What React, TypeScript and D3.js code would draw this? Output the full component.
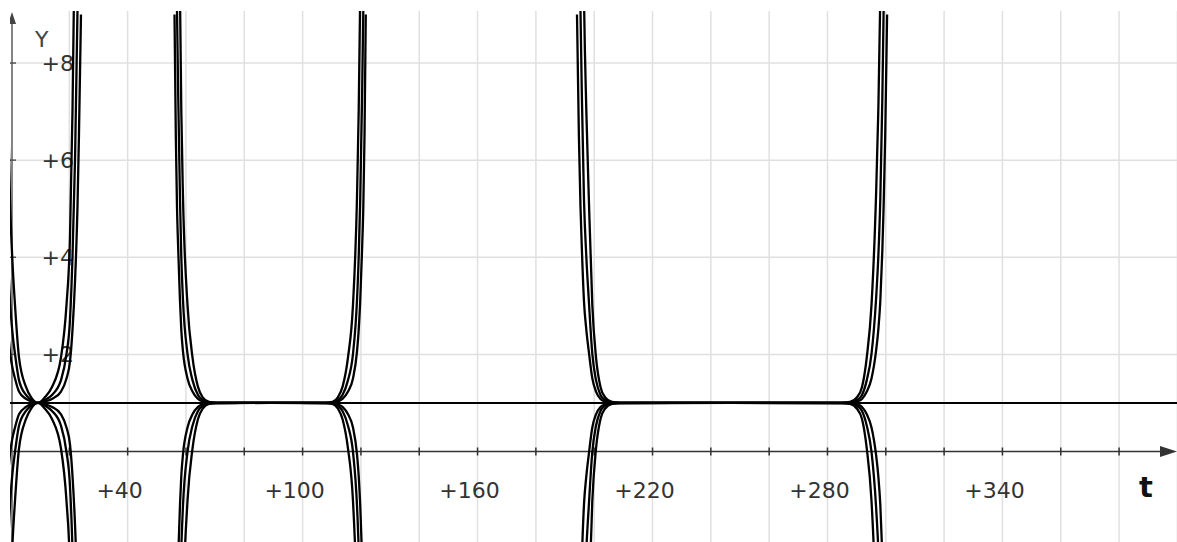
import React from "react";
import * as d3 from "d3";

const W = 1177;
const H = 542;

// x ticks / grid (t units), y ticks
const xGridTicks = d3.range(20, 401, 20);
const xLabelTicks = [40, 100, 160, 220, 280, 340];
const yGridTicks = [2, 4, 6, 8];
const yLabelTicks = [2, 4, 6, 8];

// family of curves y = 1 ± k·g(t)
const familyK = [0.5, 1, 2];
const baseline = 1;

// branch A (around t ≈ 9)
const branchA_t = [-4.0, -3.0, -2.2, -1.5, -1.0, -0.34, 0.5, 1.37, 2.74, 5.14, 6.86, 9.26, 11.66, 14.06, 17.15, 19.03, 20.23, 21.09, 21.95, 22.8, 23.3, 24.0];
const branchA_g = [16, 9, 6, 4, 3, 2.1, 1.45, 1.01, 0.47, 0.165, 0.06, 0, 0.06, 0.165, 0.47, 1.01, 1.71, 3.01, 5.0, 8.07, 11, 16];

// branch B (t ≈ 56 … 122)
const branchB_t = [56.07, 56.52, 56.93, 57.37, 57.96, 58.4, 58.98, 60.53, 62.24, 64.13, 65.67, 67.9, 70.3, 89.0, 108.02, 110.25, 112.14, 113.68, 115.57, 117.28, 118.66, 119.24, 119.75, 120.37, 120.82, 121.23, 121.67];
const branchB_g = [16, 11, 8.07, 6.24, 4.18, 3.01, 2.12, 1.01, 0.47, 0.165, 0.06, 0.01, 0.002, 0, 0.002, 0.01, 0.06, 0.165, 0.47, 1.01, 2.12, 3.01, 4.18, 6.24, 8.07, 11, 16];

// branch C (t ≈ 193 … 301)
const branchC_t = [194.1, 194.75, 195.3, 195.8, 196.5, 197.3, 198.15, 199.35, 200.62, 202.16, 203.7, 206.1, 208.85, 246.9, 284.98, 287.72, 290.12, 291.84, 293.48, 295.1, 296.64, 297.43, 298.11, 298.8, 299.25, 299.8, 300.45];
const branchC_g = [16, 11, 8.07, 6.24, 4.18, 3.01, 2.12, 1.01, 0.47, 0.165, 0.06, 0.01, 0.002, 0, 0.002, 0.01, 0.06, 0.165, 0.47, 1.01, 2.12, 3.01, 4.18, 6.24, 8.07, 11, 16];

const branches = [
  { t: branchA_t, g: branchA_g },
  { t: branchB_t, g: branchB_g },
  { t: branchC_t, g: branchC_g },
];

const FONT = "'DejaVu Sans', sans-serif";

export default function App() {
  const x = d3.scaleLinear().domain([0, 380]).range([11, 11 + 380 * 2.916]);
  const y = d3.scaleLinear().domain([0, 8]).range([451.5, 451.5 - 8 * 48.56]);

  const plotLeft = 10;
  const plotTop = 11;

  const paths: { d: string; key: string }[] = [];
  branches.forEach((b, bi) => {
    const pts = b.t.map((t, i) => ({ t, g: b.g[i] }));
    [1, -1].forEach((sign) => {
      familyK.forEach((k, ki) => {
        const line = d3
          .line<{ t: number; g: number }>()
          .x((d) => x(d.t))
          .y((d) => y(baseline + sign * k * d.g))
          .curve(d3.curveMonotoneX);
        paths.push({ d: line(pts) || "", key: `${bi}-${sign}-${ki}` });
      });
    });
  });

  const ax0 = x(0);
  const ay0 = y(0);

  return (
    <svg
      width={W}
      height={H}
      style={{ position: "absolute", left: 0, top: 0, background: "#fff" }}
    >
      <defs>
        <clipPath id="plot">
          <rect x={plotLeft} y={plotTop} width={W - plotLeft} height={H - plotTop} />
        </clipPath>
      </defs>
      <rect x={0} y={0} width={W} height={H} fill="#fff" />
      <g clipPath="url(#plot)">
        {xGridTicks.map((t) => (
          <line key={`gx${t}`} x1={x(t)} x2={x(t)} y1={plotTop} y2={H} stroke="#e0e0e0" strokeWidth={1.5} />
        ))}
        {yGridTicks.map((v) => (
          <line key={`gy${v}`} x1={plotLeft} x2={W} y1={y(v)} y2={y(v)} stroke="#e0e0e0" strokeWidth={1.5} />
        ))}
        {/* x axis */}
        <line x1={plotLeft} x2={W - 12} y1={ay0} y2={ay0} stroke="#333" strokeWidth={1.6} />
        <path d={`M${W},${ay0} L${W - 17},${ay0 - 5.5} L${W - 17},${ay0 + 5.5} Z`} fill="#333" />
        {xGridTicks.filter((t) => x(t) < W - 20).map((t) => (
          <line key={`tx${t}`} x1={x(t)} x2={x(t)} y1={ay0 - 4} y2={ay0 + 4} stroke="#333" strokeWidth={1.5} />
        ))}
        {/* y axis */}
        <line x1={ax0 + 1} x2={ax0 + 1} y1={H} y2={20} stroke="#666" strokeWidth={1.6} />
        <path d={`M${ax0 + 1},${12} L${ax0 - 3},${24} L${ax0 + 5},${24} Z`} fill="#444" />
        {yGridTicks.map((v) => (
          <line key={`ty${v}`} x1={ax0 - 3} x2={ax0 + 5} y1={y(v)} y2={y(v)} stroke="#555" strokeWidth={1.5} />
        ))}
        {/* labels */}
        {xLabelTicks.map((t) => (
          <text key={`lx${t}`} x={x(t) - 8} y={498} textAnchor="middle" fontFamily={FONT} fontSize={22} fill="#333">
            {`+${t}`}
          </text>
        ))}
        {yLabelTicks.map((v) => (
          <text key={`ly${v}`} x={74} y={y(v) + 8} textAnchor="end" fontFamily={FONT} fontSize={22} fill="#333">
            {`+${v}`}
          </text>
        ))}
        <text x={35} y={47} fontFamily={FONT} fontSize={22} fill="#444">Y</text>
        <text x={1146} y={497} textAnchor="middle" fontFamily={FONT} fontSize={29} fontWeight="bold" fill="#111">t</text>
        {/* y = 1 line */}
        <line x1={plotLeft} x2={W} y1={y(baseline)} y2={y(baseline)} stroke="#000" strokeWidth={2} />
        {/* curves */}
        {paths.map((p) => (
          <path key={p.key} d={p.d} fill="none" stroke="#000" strokeWidth={2.3} />
        ))}
      </g>
    </svg>
  );
}
